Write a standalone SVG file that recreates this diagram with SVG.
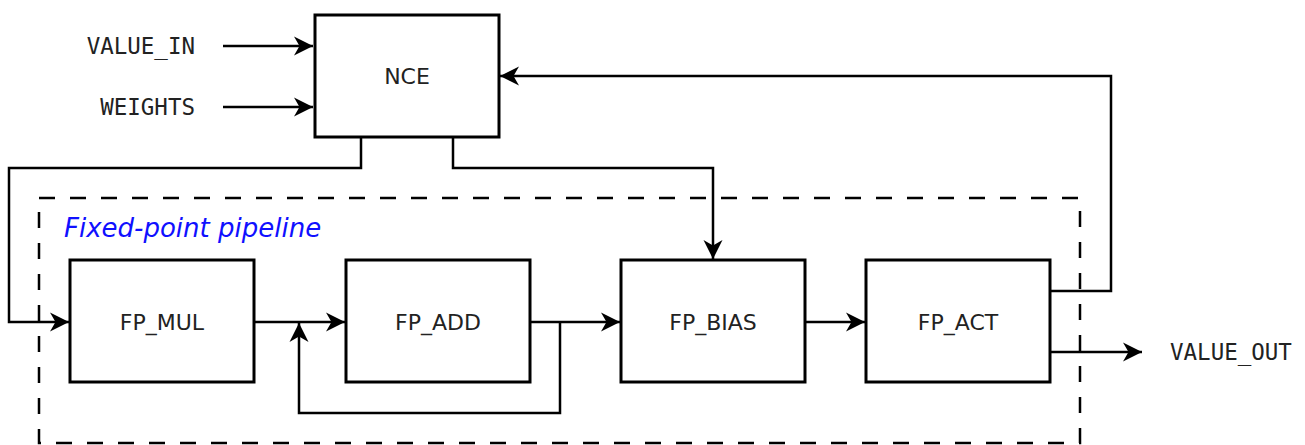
<svg xmlns="http://www.w3.org/2000/svg" width="1305" height="445" viewBox="0 0 1305 445">
  <style>
    .box { fill: #ffffff; stroke: #000000; stroke-width: 3; }
    .wire { fill: none; stroke: #000000; stroke-width: 2.5; }
    .label { font-family: "DejaVu Sans", "Liberation Sans", sans-serif; font-size: 22px; fill: #222222; text-anchor: middle; }
    .port { font-family: "DejaVu Sans Mono", "Liberation Mono", monospace; font-size: 22.5px; fill: #222222; }
    .group { fill: none; stroke: #000000; stroke-width: 2.5; stroke-dasharray: 16 15; }
    .title { font-family: "DejaVu Sans", "Liberation Sans", sans-serif; font-style: italic; font-size: 26px; fill: #1010ff; }
  </style>
  <defs>
    <marker id="arrow" viewBox="-20 -10 20 20" refX="0" refY="0" markerWidth="20" markerHeight="20" markerUnits="userSpaceOnUse" orient="auto">
      <path d="M0,0 L-19,-9.5 L-13.5,0 L-19,9.5 Z" fill="#000000"/>
    </marker>
  </defs>
  <rect width="1305" height="445" fill="#ffffff"/>

  <!-- pipeline boundary -->
  <g id="pipeline">
    <rect class="group" x="39" y="198" width="1041" height="245"/>
    <text class="title" x="64" y="237">Fixed-point pipeline</text>
  </g>

  <!-- external ports -->
  <g id="ports">
    <text class="port" x="195" y="54" text-anchor="end">VALUE_IN</text>
    <text class="port" x="195" y="115" text-anchor="end">WEIGHTS</text>
    <text class="port" x="1170" y="360">VALUE_OUT</text>
  </g>

  <g id="nce">
    <rect class="box" x="315" y="15" width="184" height="122"/>
    <text class="label" x="407" y="84">NCE</text>
  </g>
  <g id="fp_mul">
    <rect class="box" x="70" y="260" width="184" height="122"/>
    <text class="label" x="162" y="330">FP_MUL</text>
  </g>
  <g id="fp_add">
    <rect class="box" x="346" y="260" width="184" height="122"/>
    <text class="label" x="438" y="330">FP_ADD</text>
  </g>
  <g id="fp_bias">
    <rect class="box" x="621" y="260" width="184" height="122"/>
    <text class="label" x="713" y="330">FP_BIAS</text>
  </g>
  <g id="fp_act">
    <rect class="box" x="866" y="260" width="184" height="122"/>
    <text class="label" x="958" y="330">FP_ACT</text>
  </g>

  <g id="connectors">
    <path class="wire" d="M223,46 H313" marker-end="url(#arrow)"/>
    <path class="wire" d="M223,107 H313" marker-end="url(#arrow)"/>
    <path class="wire" d="M361,137 V168 H9 V322 H69" marker-end="url(#arrow)"/>
    <path class="wire" d="M453,137 V168 H713 V259" marker-end="url(#arrow)"/>
    <path class="wire" d="M254,322 H345" marker-end="url(#arrow)"/>
    <path class="wire" d="M530,322 H620" marker-end="url(#arrow)"/>
    <path class="wire" d="M560,322 V413 H299 V323" marker-end="url(#arrow)"/>
    <path class="wire" d="M805,322 H865" marker-end="url(#arrow)"/>
    <path class="wire" d="M1050,291 H1111 V76 H500" marker-end="url(#arrow)"/>
    <path class="wire" d="M1050,352 H1142" marker-end="url(#arrow)"/>
  </g>
</svg>
